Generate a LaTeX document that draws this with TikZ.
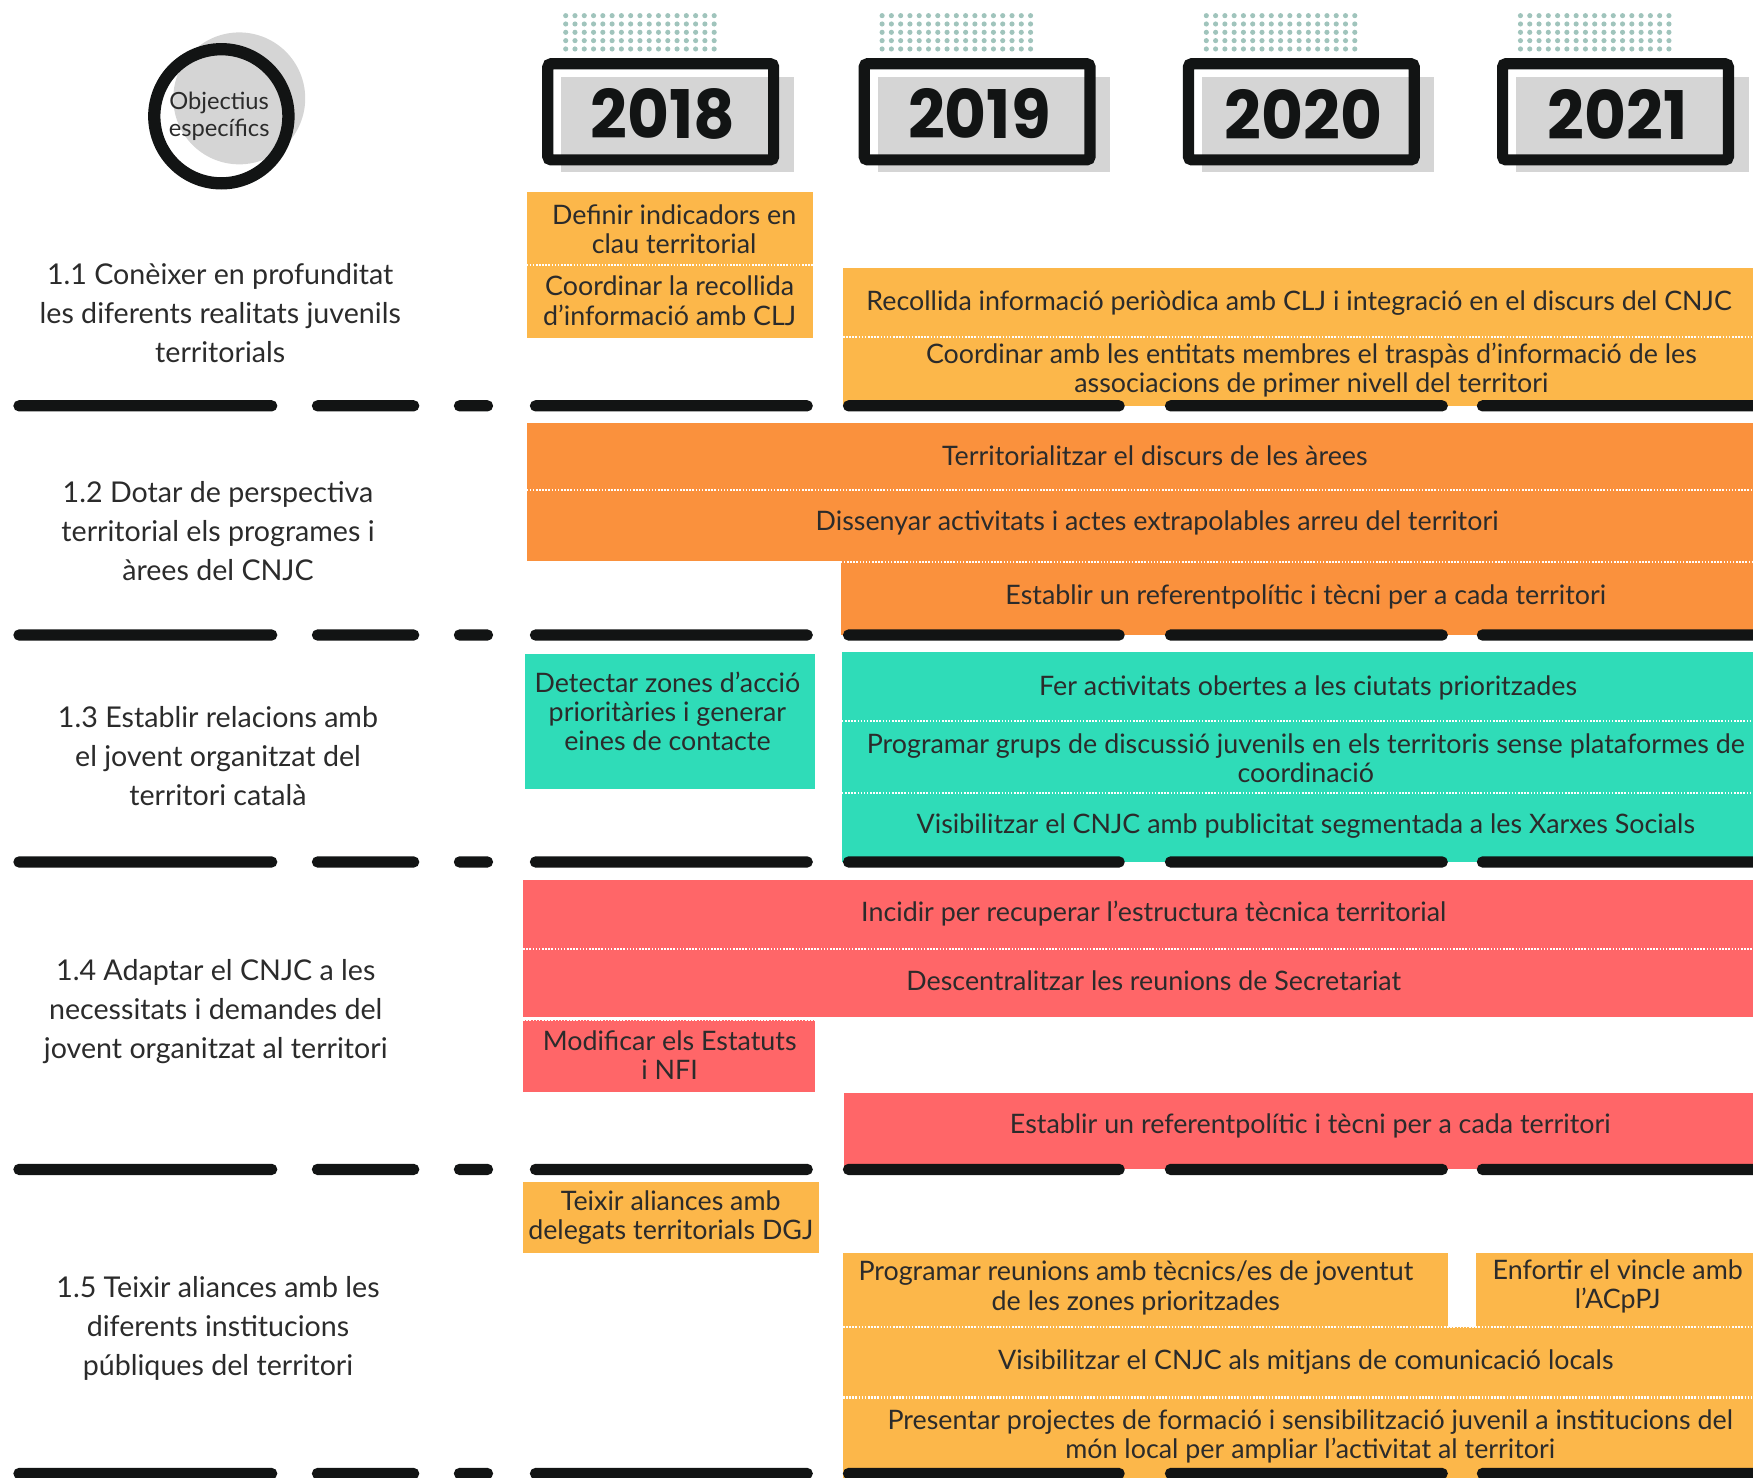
\documentclass[tikz,border=0pt]{standalone}
\usepackage{fontspec}
\setmainfont{Lato}
\newfontfamily\yearfont{Poppins}
\definecolor{cyel}{HTML}{FCB74A}
\definecolor{corg}{HTML}{FA913D}
\definecolor{cteal}{HTML}{2FDCB8}
\definecolor{cred}{HTML}{FF6668}
\definecolor{cblk}{HTML}{121414}
\definecolor{cgry}{HTML}{D5D5D5}
\definecolor{cdot}{HTML}{A0C4BC}
\definecolor{ctxt}{HTML}{2B2B2B}
\begin{document}
\begin{tikzpicture}[x=0.5pt,y=-0.5pt,
  bartext/.style={font=\fontsize{12}{13}\selectfont, text=ctxt, align=center, inner sep=0pt},
  objlabel/.style={font=\fontsize{12.8}{17.5}\selectfont, text=ctxt, align=center, inner sep=0pt},
  sepdash/.style={fill=cblk, rounded corners=2.4pt},
  wdots/.style={white, line width=0.9pt, dash pattern=on 0.7pt off 0.7pt},
  yearframe/.style={draw=cblk, line width=5pt, rounded corners=1.5pt},
  yeartext/.style={font=\yearfont\bfseries\fontsize{30}{32}\selectfont, text=cblk, inner sep=0pt}]
\useasboundingbox (0,0) rectangle (1568,1322);

% ---------- header circle ----------
\fill[cgry] (214,88) circle (59);
\draw[cblk, line width=5.5pt] (198,104) circle (60);
\node[font=\fontsize{10.6}{12}\selectfont, text=ctxt, align=center, inner sep=0pt] (obj) at (196,104) {Objectius\\específics};

% ---------- year boxes ----------
\foreach \x/\yr in {485/2018, 768/2019, 1058/2020, 1339/2021}{
  \foreach \i in {0,...,16}{
    \foreach \j in {0,...,4}{
      \fill[cdot] (\x+21+\i*8.3, 14+\j*7.45) circle (2.3);
    }
  }
  \fill[cgry] (\x+17,69) rectangle (\x+225,154);
  \draw[yearframe] (\x+5,57) rectangle (\x+207,143);
  \node[yeartext] (y\yr) at (\x+108,102) {\scalebox{0.96}[1]{\yr}};
}

% ---------- row 1.1 ----------
\node[objlabel] (o11) at (197,280) {1.1 Conèixer en profunditat\\les diferents realitats juvenils\\territorials};
\fill[cyel] (471,172) rectangle (727,302);
\draw[wdots] (471,237) -- (727,237);
\node[bartext] (a11) at (603,205) {Definir indicadors en\\clau territorial};
\node[bartext] (a12) at (599,269) {Coordinar la recollida\\d’informació amb CLJ};
\fill[cyel] (754,240) rectangle (1568,363);
\draw[wdots] (754,301) -- (1568,301);
\node[bartext] (a13) at (1162,271) {Recollida informació periòdica amb CLJ i integració en el discurs del CNJC};
\node[bartext] (a14) at (1173,331) {Coordinar amb les entitats membres el traspàs d'informació de les\\associacions de primer nivell del territori};

% ---------- row 1.2 ----------
\node[objlabel] (o12) at (195,475) {1.2 Dotar de perspectiva\\territorial els programes i\\àrees del CNJC};
\fill[corg] (471,378) rectangle (1568,502);
\fill[corg] (752,502) rectangle (1568,568);
\draw[wdots] (471,438) -- (1568,438);
\draw[wdots] (752,503) -- (1568,503);
\node[bartext] (b11) at (1033,408) {Territorialitzar el discurs de les àrees};
\node[bartext] (b12) at (1035,468) {Dissenyar activitats i actes extrapolables arreu del territori};
\node[bartext] (b13) at (1168,534) {Establir un referentpolític i tècni per a cada territori};

% ---------- row 1.3 ----------
\node[objlabel] (o13) at (195,676) {1.3 Establir relacions amb\\el jovent organitzat del\\territori català};
\fill[cteal] (470,585) rectangle (729,706);
\node[bartext] (c11) at (597,636) {Detectar zones d'acció\\prioritàries i generar\\eines de contacte};
\fill[cteal] (753,583) rectangle (1568,771);
\draw[wdots] (753,645) -- (1568,645);
\draw[wdots] (753,709) -- (1568,709);
\node[bartext] (c12) at (1170,615) {Fer activitats obertes a les ciutats prioritzades};
\node[bartext] (c13) at (1168,678) {Programar grups de discussió juvenils en els territoris sense plataformes de\\coordinació};
\node[bartext] (c14) at (1168,739) {Visibilitzar el CNJC amb publicitat segmentada a les Xarxes Socials};

% ---------- row 1.4 ----------
\node[objlabel] (o14) at (193,905) {1.4 Adaptar el CNJC a les\\necessitats i demandes del\\jovent organitzat al territori};
\fill[cred] (468,787) rectangle (1568,910);
\draw[wdots] (468,849) -- (1568,849);
\node[bartext] (d11) at (1032,817) {Incidir per recuperar l’estructura tècnica territorial};
\node[bartext] (d12) at (1032,877) {Descentralitzar les reunions de Secretariat};
\fill[cred] (468,912) rectangle (729,977);
\draw[wdots] (468,912) -- (729,912);
\node[bartext] (d13) at (599,944) {Modificar els Estatuts\\i NFI};
\fill[cred] (755,978) rectangle (1568,1046);
\node[bartext] (d14) at (1172,1007) {Establir un referentpolític i tècni per a cada territori};

% ---------- row 1.5 ----------
\node[objlabel] (o15) at (195,1188) {1.5 Teixir aliances amb les\\diferents institucions\\públiques del territori};
\fill[cyel] (468,1057) rectangle (733,1121);
\node[bartext] (e11) at (600,1089) {Teixir aliances amb\\delegats territorials DGJ};
\fill[cyel] (754,1121) rectangle (1295,1187);
\fill[cyel] (1320,1121) rectangle (1568,1187);
\fill[cyel] (754,1187) rectangle (1568,1322);
\draw[wdots] (754,1187) -- (1568,1187);
\draw[wdots] (754,1250) -- (1568,1250);
\node[bartext] (e12) at (1016,1152) {Programar reunions amb tècnics/es de joventut\\de les zones prioritzades};
\node[bartext] (e13) at (1447,1151) {Enfortir el vincle amb\\l'ACpPJ};
\node[bartext] (e14) at (1168,1218) {Visibilitzar el CNJC als mitjans de comunicació locals};
\node[bartext] (e15) at (1172,1285) {Presentar projectes de formació i sensibilització juvenil a institucions del\\món local per ampliar l’activitat al territori};

% ---------- separators ----------
\foreach \yy in {363,568,771,1046,1318}{
  \foreach \xa/\xb in {12/248, 279/375, 406/441, 474/727, 754/1006, 1042/1295, 1321/1580}{
    \fill[sepdash] (\xa,\yy-5) rectangle (\xb,\yy+5);
  }
}
\end{tikzpicture}
\end{document}
